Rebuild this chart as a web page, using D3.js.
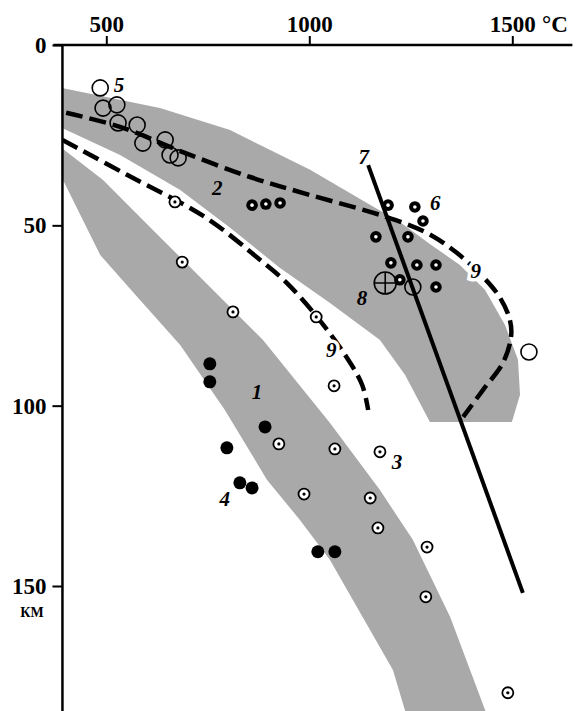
<!DOCTYPE html>
<html lang="ru">
<head>
  <meta charset="UTF-8">
  <title>Геотермы</title>
  <script src="https://d3js.org/d3.v7.min.js"></script>
  <style>
    body { margin: 0; background: #fff; }
    text { font-family: "Liberation Serif", "DejaVu Serif", serif; font-weight: bold; }
  </style>
</head>
<body>
<svg id="chart" width="579" height="711"></svg>
<script>
// temperature (°C) / depth (km) readings
const tempTicks = [500, 1000, 1500];
const depthTicks = [0, 50, 100, 150];

// shaded field 1
const band1 = [[391, 28.6], [492, 37.4], [632, 53.2], [886, 81.8], [1051, 104.8], [1174, 123.4],
  [1255, 137.2], [1347, 158.6], [1445, 188], [1245, 188], [1206, 173.3], [1051, 142.8],
  [977, 131.7], [896, 120.6], [792, 101.2], [682, 83.2], [583, 70.7], [485, 58.2], [391, 36.9]];
// shaded field 2
const band2 = [[391, 11.9], [632, 17.5], [805, 23.6], [1002, 34.6], [1142, 43.8], [1223, 49.1],
  [1297, 55.2], [1371, 61.0], [1433, 67.9], [1482, 77.6], [1514, 87.3], [1519, 97.0],
  [1499, 104.5], [1297, 104.5], [1236, 91.5], [1174, 81.8], [1051, 71.5], [928, 61.8],
  [805, 50.7], [682, 40.2], [534, 30.5], [391, 23.0]];

// dashed geotherms 9
const geothermHot = [[401, 18.8], [534, 22.7], [682, 29.4], [854, 36.6], [1002, 41.6], [1182, 47.4],
  [1290, 52.1], [1364, 57.7], [1428, 64.3], [1470, 70.1], [1494, 76.2], [1497, 80.9],
  [1477, 88.1], [1428, 95.6], [1379, 103.1]];
const geothermCold = [[392, 26.3], [551, 36.0], [743, 47.7], [879, 59.6], [945, 66.0], [1017, 75.1],
  [1088, 85.9], [1130, 94.2], [1145, 101.2]];

// line 7
const line7 = [[1145, 33.3], [1526, 151.9]];

// point groups
const group3 = [[669, 43.5], [687, 60.2], [812, 74.0], [1017, 75.4], [1061, 94.5], [925, 110.6],
  [1063, 112.0], [1174, 112.8], [987, 124.5], [1150, 125.6], [1169, 133.9], [1290, 139.2],
  [1287, 153.0], [1489, 179.6]];
const group4 = [[755, 88.4], [755, 93.4], [891, 105.9], [797, 111.7], [829, 121.4], [859, 122.8],
  [1021, 140.5], [1063, 140.5]];
const group5 = [[485, 11.9], [492, 17.5], [526, 16.6], [529, 21.6], [576, 22.2], [590, 27.2],
  [645, 26.3], [657, 30.5], [677, 31.3], [1255, 67.1], [1541, 85.1]];
const group6 = [[859, 44.4], [893, 44.1], [928, 43.8], [1194, 44.4], [1260, 44.9], [1280, 48.8],
  [1164, 53.2], [1243, 53.2], [1201, 60.4], [1265, 61.0], [1312, 61.0], [1223, 65.1], [1312, 67.1]];
const point8 = [[1187, 66.0]];

// [text, temperature, depth, halo]
const labels = [
  ['5', 531, 11.1, false], ['2', 773, 39.7, false], ['7', 1134, 31.1, false], ['6', 1310, 43.8, false],
  ['9', 1410, 62.8, true], ['8', 1130, 70.1, false], ['9', 1054, 84.6, true], ['1', 871, 96.2, false],
  ['3', 1216, 115.6, false], ['4', 792, 125.9, false]
];

const tMin = 392, tMax = 1648, dMax = 186;

const svg = d3.select('#chart');
const x = d3.scaleLinear().domain([500, 1500]).range([106.3, 512.3]);
const y = d3.scaleLinear().domain([0, 150]).range([45, 586]);

svg.append('clipPath').attr('id', 'plot')
  .append('rect')
    .attr('x', x(tMin)).attr('y', y(0))
    .attr('width', 579 - x(tMin)).attr('height', 711 - y(0));

const plot = svg.append('g').attr('clip-path', 'url(#plot)');

const area = d3.line().x(d => x(d[0])).y(d => y(d[1])).curve(d3.curveLinearClosed);
const curve = d3.line().x(d => x(d[0])).y(d => y(d[1])).curve(d3.curveCatmullRom);

plot.selectAll('path.band')
  .data([band1, band2])
  .enter().append('path')
    .attr('class', 'band')
    .attr('d', area)
    .attr('fill', '#a9a9a9');

plot.selectAll('path.geo')
  .data([geothermHot, geothermCold])
  .enter().append('path')
    .attr('class', 'geo')
    .attr('d', curve)
    .attr('fill', 'none')
    .attr('stroke', '#000')
    .attr('stroke-width', 4.5)
    .attr('stroke-dasharray', '17,7');

plot.append('path')
  .attr('d', d3.line().x(d => x(d[0])).y(d => y(d[1]))(line7))
  .attr('stroke', '#000')
  .attr('stroke-width', 4);

// open circles (5)
plot.selectAll('circle.g5')
  .data(group5)
  .enter().append('circle')
    .attr('class', 'g5')
    .attr('cx', d => x(d[0])).attr('cy', d => y(d[1]))
    .attr('r', 8)
    .attr('fill', 'none').attr('stroke', '#000').attr('stroke-width', 1.6);

// filled (4)
plot.selectAll('circle.g4')
  .data(group4)
  .enter().append('circle')
    .attr('class', 'g4')
    .attr('cx', d => x(d[0])).attr('cy', d => y(d[1]))
    .attr('r', 6.5)
    .attr('fill', '#000');

// dotted rings (3)
const g3 = plot.selectAll('g.g3')
  .data(group3)
  .enter().append('g')
    .attr('class', 'g3')
    .attr('transform', d => `translate(${x(d[0])},${y(d[1])})`);
g3.append('circle').attr('r', 5.5).attr('fill', '#fff').attr('stroke', '#000').attr('stroke-width', 1.8);
g3.append('circle').attr('r', 1.6).attr('fill', '#000');

// thick rings (6)
const g6 = plot.selectAll('g.g6')
  .data(group6)
  .enter().append('g')
    .attr('class', 'g6')
    .attr('transform', d => `translate(${x(d[0])},${y(d[1])})`);
g6.append('circle').attr('r', 5.8).attr('fill', '#000');
g6.append('circle').attr('r', 1.8).attr('fill', '#fff');

// crossed circle (8)
const g8 = plot.selectAll('g.g8')
  .data(point8)
  .enter().append('g')
    .attr('class', 'g8')
    .attr('transform', d => `translate(${x(d[0])},${y(d[1])})`);
g8.append('circle').attr('r', 11).attr('fill', 'none').attr('stroke', '#000').attr('stroke-width', 1.6);
g8.append('path').attr('d', 'M-11,0H11M0,-11V11').attr('stroke', '#000').attr('stroke-width', 1.6);

// numbers
plot.selectAll('text.lab')
  .data(labels)
  .enter().append('text')
    .attr('class', 'lab')
    .attr('x', d => x(d[1])).attr('y', d => y(d[2]))
    .attr('text-anchor', 'middle')
    .attr('dominant-baseline', 'central')
    .attr('stroke', d => d[3] ? '#fff' : 'none')
    .attr('stroke-width', 7)
    .attr('paint-order', 'stroke')
    .style('font-style', 'italic')
    .style('font-size', '21px')
    .text(d => d[0]);

// axes
svg.append('line')
  .attr('x1', x(tMin) - 9).attr('x2', x(tMax))
  .attr('y1', y(0)).attr('y2', y(0))
  .attr('stroke', '#000').attr('stroke-width', 2.5);
svg.append('line')
  .attr('x1', x(tMin)).attr('x2', x(tMin))
  .attr('y1', y(0)).attr('y2', y(dMax))
  .attr('stroke', '#000').attr('stroke-width', 2.5);

const axisTopG = svg.append('g')
  .attr('transform', `translate(0,${y(0)})`)
  .call(d3.axisTop(x).tickValues(tempTicks).tickFormat(d3.format('d'))
    .tickSize(9).tickPadding(4).tickSizeOuter(0));
axisTopG.select('.domain').remove();

const axisLeftG = svg.append('g')
  .attr('transform', `translate(${x(tMin)},0)`)
  .call(d3.axisLeft(y).tickValues(depthTicks).tickFormat(d3.format('d'))
    .tickSize(10).tickPadding(6).tickSizeOuter(0));
axisLeftG.select('.domain').remove();

svg.selectAll('.tick line').attr('stroke', '#000').attr('stroke-width', 2);
svg.selectAll('.tick text')
  .attr('fill', '#000')
  .style('font-family', '"Liberation Serif", serif')
  .style('font-weight', 'bold')
  .style('font-size', '23px');

svg.append('text')
  .attr('x', 542).attr('y', 32)
  .style('font-size', '23px')
  .text('°C');

svg.append('text')
  .attr('x', 32).attr('y', 617)
  .attr('text-anchor', 'middle')
  .style('font-size', '14px')
  .text('КМ');
</script>
</body>
</html>
